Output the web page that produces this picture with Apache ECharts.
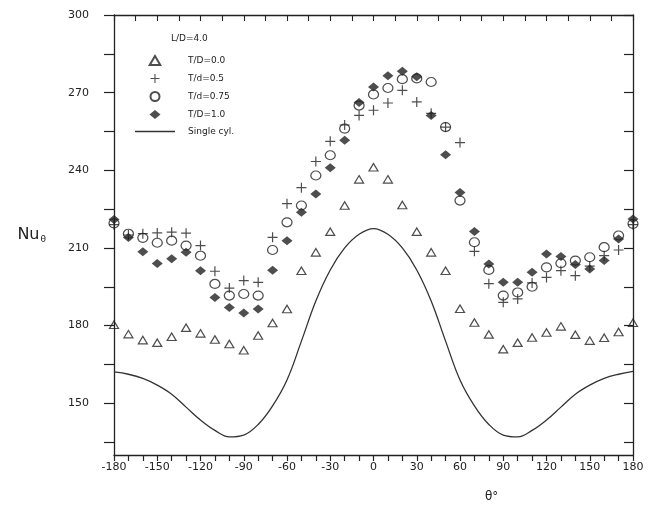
<!DOCTYPE html>
<html>
<head>
<meta charset="utf-8">
<script src="https://cdn.jsdelivr.net/npm/echarts@6/dist/echarts.min.js"></script>
<style>
html,body{margin:0;padding:0;background:#fff;}
#chart{width:656px;height:505px;}
</style>
</head>
<body>
<div id="chart"></div>
<script>
// ---- data ----
const theta = [-180,-170,-160,-150,-140,-130,-120,-110,-100,-90,-80,-70,-60,-50,-40,-30,-20,-10,0,
               10,20,30,40,50,60,70,80,90,100,110,120,130,140,150,160,170,180];
const nuTD00 = [180.3,176.7,174.4,173.4,175.7,179.2,177.0,174.6,172.9,170.5,176.2,181.0,186.4,201.2,208.3,216.3,226.4,236.5,241.2,
                236.5,226.6,216.3,208.3,201.2,186.5,181.2,176.6,170.9,173.4,175.4,177.3,179.7,176.5,174.2,175.3,177.5,181.1];
const nuTd05 = [219.0,215.0,215.5,215.8,216.1,215.7,210.9,201.0,194.5,197.4,196.7,214.1,227.1,233.3,243.4,251.2,257.5,261.2,263.2,
                266.0,270.9,266.4,262.0,256.7,250.7,208.7,196.2,189.0,190.3,196.5,198.6,201.2,199.3,203.0,207.0,209.2,219.0];
const nuTd075 = [219.5,215.5,213.9,212.0,212.8,210.9,207.0,196.1,191.6,192.2,191.6,209.2,219.9,226.4,238.0,245.8,256.1,265.0,269.3,
                 271.8,275.2,275.5,274.1,256.7,228.3,212.2,201.5,191.6,192.8,195.0,202.5,204.1,205.1,206.4,210.3,214.8,219.3];
const nuTD10 = [221.0,214.0,208.5,204.0,205.8,208.3,201.2,190.9,187.0,184.9,186.4,201.4,212.8,223.8,230.8,241.0,251.6,266.2,272.2,
                276.5,278.3,276.1,261.2,246.0,231.4,216.4,203.8,196.7,196.7,200.6,207.7,206.7,203.6,201.9,205.1,213.5,221.2];
const nuSingle = [162.1,161.2,159.6,157.0,153.5,148.5,143.5,139.5,137.0,137.7,141.8,149.0,159.0,174.0,189.5,201.5,210.0,215.3,217.5,
                  215.3,210.0,201.5,189.5,174.0,159.0,149.0,141.8,137.7,137.0,139.5,143.5,148.5,153.5,157.0,159.6,161.2,162.3];
const xTickLabels = [-180,-150,-120,-90,-60,-30,0,30,60,90,120,150,180];
const xBottomTicks = [-180,-170,-160,-150,-140,-130,-120,-110,-100,-90,-80,-70,-60,-50,-40,-30,-20,-10,0,
                      10,20,30,40,50,60,70,80,90,100,110,120,130,140,150,160,170,180];
const xTopTicks = [-180,-165,-150,-135,-120,-105,-90,-75,-60,-45,-30,-15,0,15,30,45,60,75,90,105,120,135,150,165,180];
const yTickLabels = [150,180,210,240,270,300];
const yAllTicks = [135,150,165,180,195,210,225,240,255,270,285,300];
const seriesNames = ['T/D=0.0','T/d=0.5','T/d=0.75','T/D=1.0','Single cyl.'];
const headerText = 'L/D=4.0';
const xAxisName = 'θ°';

// ---- chart ----
const pair = arr => theta.map((t, i) => [t, arr[i]]);
const INK = '#222';
const FONT = 'DejaVu Sans, Verdana, sans-serif';
const plusPath = 'path://M4.4,0H5.6V4.4H10V5.6H5.6V10H4.4V5.6H0V4.4H4.4Z';
const triPath = 'path://M5,0L10,8.5L0,8.5Z';
const diaPath = 'path://M5.5,0L11,4.5L5.5,9L0,4.5Z';
const linePath = 'path://M0,0H40V1.4H0Z';

const chart = echarts.init(document.getElementById('chart'), null, {renderer: 'canvas'});
const baseY = {type: 'value', min: 130, max: 300, splitLine: {show: false}};
const option = {
  backgroundColor: '#fff',
  animation: false,
  title: [
    {text: headerText, left: 166, top: 29, textStyle: {fontSize: 9, fontWeight: 'normal', color: INK, fontFamily: FONT}},
    {text: xAxisName, left: 480, top: 486, textStyle: {fontSize: 12, fontWeight: 'normal', color: INK, fontFamily: FONT}}
  ],
  grid: {left: 114, right: 23, top: 15, bottom: 50},
  legend: {
    orient: 'vertical', left: 130, top: 50, itemWidth: 40, itemHeight: 9, itemGap: 8, symbolKeepAspect: true,
    data: [
      {name: seriesNames[0], icon: triPath},
      {name: seriesNames[1], icon: plusPath},
      {name: seriesNames[2], icon: 'circle'},
      {name: seriesNames[3], icon: diaPath},
      {name: seriesNames[4], icon: linePath}
    ],
    textStyle: {fontSize: 9, color: INK, fontFamily: FONT, padding: [0, 0, 0, 8]}
  },
  xAxis: [
    {type: 'value', min: -180, max: 180, position: 'bottom',
     axisLine: {show: true, onZero: false, lineStyle: {color: INK, width: 1.3}},
     axisTick: {show: true, inside: false, length: 6, customValues: xBottomTicks, lineStyle: {color: INK, width: 1.2}},
     axisLabel: {customValues: xTickLabels, fontSize: 11, color: INK, margin: 7, fontFamily: FONT},
     splitLine: {show: false}},
    {type: 'value', min: -180, max: 180, position: 'top',
     axisLine: {show: true, onZero: false, lineStyle: {color: INK, width: 1.3}},
     axisTick: {show: true, inside: true, length: 6, customValues: xTopTicks, lineStyle: {color: INK, width: 1.1}},
     axisLabel: {show: false}, splitLine: {show: false}}
  ],
  yAxis: [
    Object.assign({}, baseY, {position: 'left',
     axisLine: {show: true, onZero: false, lineStyle: {color: INK, width: 1.3}},
     axisTick: {show: true, inside: false, length: 10, customValues: yAllTicks, lineStyle: {color: INK, width: 1.2}},
     axisLabel: {customValues: yTickLabels, fontSize: 11, color: INK, margin: 25, fontFamily: FONT},
     name: '{a|Nu}{b|θ}', nameLocation: 'middle', nameRotate: 0, nameGap: 68,
     nameTextStyle: {rich: {a: {fontSize: 16, color: INK, fontFamily: FONT}, b: {fontSize: 9, color: INK, fontFamily: FONT, padding: [9, 0, 0, 1]}}}}),
    Object.assign({}, baseY, {position: 'right',
     axisLine: {show: true, onZero: false, lineStyle: {color: INK, width: 1.3}},
     axisTick: {show: true, inside: true, length: 9, customValues: yAllTicks, lineStyle: {color: INK, width: 1.2}},
     axisLabel: {show: false}})
  ],
  series: [
    {name: seriesNames[0], type: 'scatter', data: pair(nuTD00), symbol: triPath, symbolSize: [9, 7.5],
     itemStyle: {color: 'rgba(255,255,255,0)', borderColor: INK, borderWidth: 1.2}, z: 3},
    {name: seriesNames[1], type: 'scatter', data: pair(nuTd05), symbol: plusPath, symbolSize: 10,
     itemStyle: {color: INK}, z: 4},
    {name: seriesNames[2], type: 'scatter', data: pair(nuTd075), symbol: 'circle', symbolSize: [10, 9],
     itemStyle: {color: 'rgba(255,255,255,0)', borderColor: INK, borderWidth: 1.2}, z: 5},
    {name: seriesNames[3], type: 'scatter', data: pair(nuTD10), symbol: diaPath, symbolSize: [11, 9],
     itemStyle: {color: INK}, z: 2},
    {name: seriesNames[4], type: 'line', data: pair(nuSingle), smooth: 0.4, symbol: 'none', showSymbol: false,
     lineStyle: {color: '#333', width: 1.3}, itemStyle: {color: '#333'}, z: 1}
  ]
};
chart.setOption(option);
</script>
</body>
</html>
